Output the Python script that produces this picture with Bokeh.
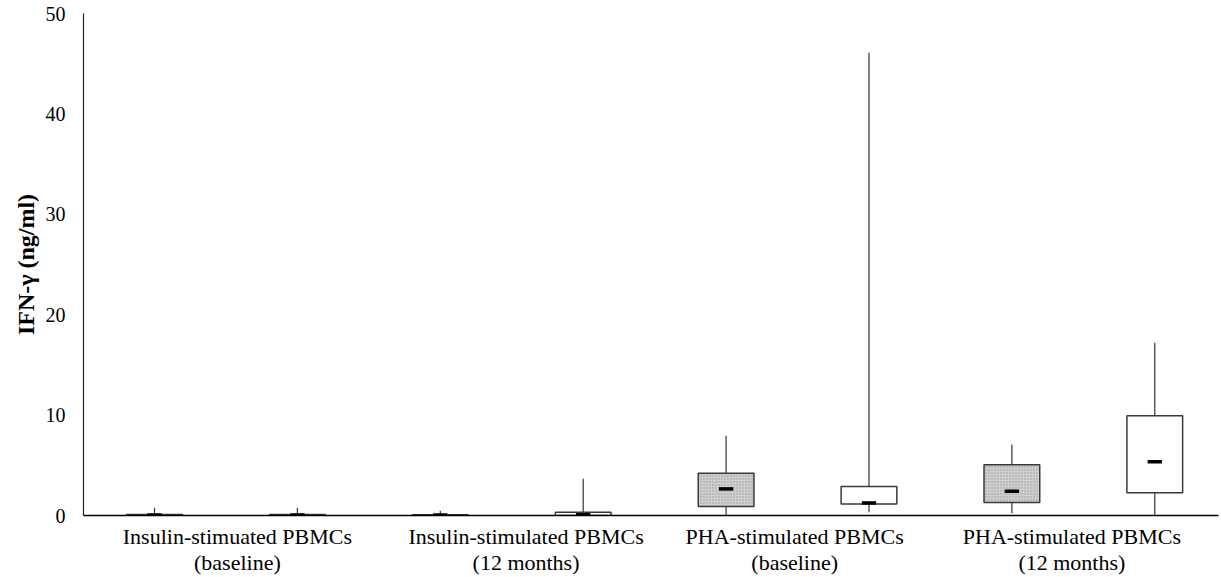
from bokeh.plotting import figure
from bokeh.models import Range1d, FixedTicker, ColumnDataSource
from bokeh.embed import file_html
from bokeh.resources import INLINE

# ---- data ----
categories = [
    "Insulin-stimuated PBMCs\n(baseline)",
    "Insulin-stimulated PBMCs\n(12 months)",
    "PHA-stimulated PBMCs\n(baseline)",
    "PHA-stimulated PBMCs\n(12 months)",
]
box_series = ["grey", "white", "grey", "white", "grey", "white", "grey", "white"]
whisker_low = [0.0, 0.0, 0.0, 0.0, 0.0, 0.33, 0.23, 0.0]
q1 = [0.0, 0.0, 0.0, 0.0, 0.9, 1.15, 1.3, 2.26]
median = [0.05, 0.05, 0.05, 0.08, 2.65, 1.25, 2.42, 5.35]
q3 = [0.1, 0.1, 0.08, 0.33, 4.2, 2.9, 5.05, 9.93]
whisker_high = [0.77, 0.77, 0.47, 3.65, 7.95, 46.1, 7.07, 17.2]
y_ticks = [0, 10, 20, 30, 40, 50]
y_title = "IFN-γ (ng/ml)"

# ---- layout constants ----
box_x = list(range(len(q1)))
label_ticks = [0.58, 2.6, 4.48, 6.42]
X0, X1 = -0.497, 7.446
BOX_W = 0.39
MED_W = 0.1
FONT = "Liberation Serif"

fill_map = {"grey": "#cfcfcf", "white": "#ffffff"}
hatch_map = {"grey": "dot", "white": " "}

src = ColumnDataSource(dict(
    x=box_x, lo=whisker_low, q1=q1, med=median, q3=q3, hi=whisker_high,
    mid=[(a + b) / 2 for a, b in zip(q1, q3)],
    h=[b - a for a, b in zip(q1, q3)],
    fill=[fill_map[s] for s in box_series],
    hatch=[hatch_map[s] for s in box_series],
))

p = figure(width=1221, height=577, output_backend="svg", toolbar_location=None,
           x_range=Range1d(X0, X1), y_range=Range1d(0, 50),
           min_border_left=83, min_border_right=3, min_border_top=13,
           min_border_bottom=62)

p.segment(x0="x", y0="lo", x1="x", y1="q1", source=src, line_color="#333333", line_width=1.2)
p.segment(x0="x", y0="q3", x1="x", y1="hi", source=src, line_color="#333333", line_width=1.2)
p.rect(x="x", y="mid", width=BOX_W, height="h", source=src,
       fill_color="fill", line_color="#3a3a3a", line_width=1.5,
       hatch_pattern="hatch", hatch_color="#9a9a9a", hatch_scale=3, hatch_weight=1)
p.rect(x="x", y="med", width=MED_W, height=3.5, height_units="screen", source=src,
       fill_color="black", line_color=None)

p.grid.visible = False
p.outline_line_color = None
p.background_fill_color = "white"
p.border_fill_color = "white"

xa = p.xaxis[0]
xa.ticker = FixedTicker(ticks=label_ticks)
xa.major_label_overrides = {t: c for t, c in zip(label_ticks, categories)}
xa.major_tick_line_color = None
xa.minor_tick_line_color = None
xa.axis_line_color = "black"
xa.axis_line_width = 1.5
xa.major_label_text_font = FONT
xa.major_label_text_font_size = "22px"
xa.major_label_text_line_height = 1.05
xa.major_label_text_color = "black"
xa.major_label_standoff = 2
xa.major_label_orientation = "horizontal"

ya = p.yaxis[0]
ya.ticker = FixedTicker(ticks=y_ticks)
ya.major_tick_line_color = None
ya.minor_tick_line_color = None
ya.axis_line_color = "#222222"
ya.axis_line_width = 1.2
ya.major_label_text_font = FONT
ya.major_label_text_font_size = "20px"
ya.major_label_text_color = "black"
ya.major_label_standoff = 12
ya.axis_label = y_title
ya.axis_label_text_font = FONT
ya.axis_label_text_font_style = "bold"
ya.axis_label_text_font_size = "24px"
ya.axis_label_text_color = "black"
ya.axis_label_standoff = 4

open("out.html", "w").write(file_html(p, INLINE))
